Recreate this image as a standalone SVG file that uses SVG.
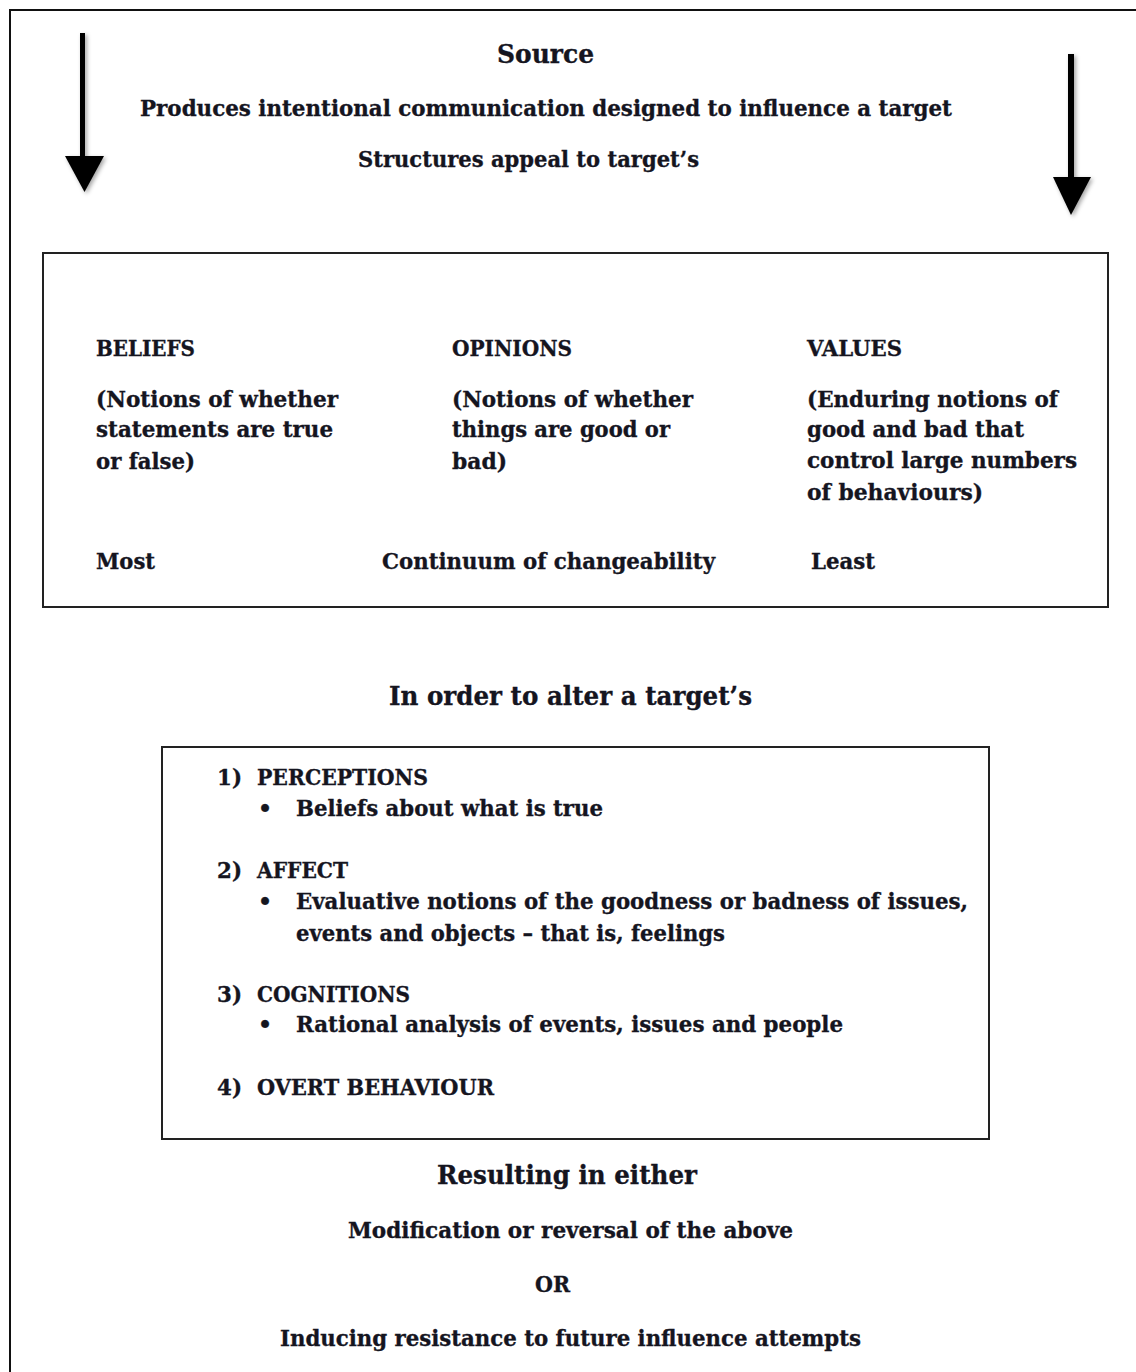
<svg xmlns="http://www.w3.org/2000/svg" width="1136" height="1372" viewBox="0 0 1136 1372">
<defs>
<style>
text{font-family:"DejaVu Serif","Liberation Serif",serif;font-weight:bold;fill:#15151f;stroke:#15151f;stroke-width:0.35;font-size:22px}
.t{font-size:26px}
.box{fill:none;stroke:#222;stroke-width:2}
.arr{fill:#000}
</style>
<filter id="sh" x="-50%" y="-20%" width="200%" height="140%"><feDropShadow dx="2" dy="2" stdDeviation="2" flood-color="#000" flood-opacity="0.35"/></filter>
</defs>
<rect width="1136" height="1372" fill="#fff"/>
<path d="M10,1372 V10 H1136" fill="none" stroke="#111" stroke-width="2"/>
<g id="connectors">
<g filter="url(#sh)" class="arr">
<rect x="80" y="33" width="5" height="125"/>
<polygon points="65,156 104,156 84.5,192"/>
</g>
<g filter="url(#sh)" class="arr">
<rect x="1068" y="54" width="6" height="125"/>
<polygon points="1053,177 1091,177 1071,215"/>
</g>
</g>
<g id="source">
<text class="t" x="497" y="63" textLength="97" lengthAdjust="spacingAndGlyphs">Source</text>
<text x="140" y="116" textLength="812" lengthAdjust="spacingAndGlyphs">Produces intentional communication designed to influence a target</text>
<text x="358" y="167" textLength="341" lengthAdjust="spacingAndGlyphs">Structures appeal to target’s</text>
</g>
<g id="continuum">
<rect class="box" x="43" y="253" width="1065" height="354"/>
<text x="96" y="356" textLength="99" lengthAdjust="spacingAndGlyphs">BELIEFS</text>
<text x="96" y="407" textLength="242" lengthAdjust="spacingAndGlyphs">(Notions of whether</text>
<text x="96" y="437" textLength="237" lengthAdjust="spacingAndGlyphs">statements are true</text>
<text x="96" y="469" textLength="99" lengthAdjust="spacingAndGlyphs">or false)</text>
<text x="452" y="356" textLength="120" lengthAdjust="spacingAndGlyphs">OPINIONS</text>
<text x="452" y="407" textLength="241" lengthAdjust="spacingAndGlyphs">(Notions of whether</text>
<text x="452" y="437" textLength="218" lengthAdjust="spacingAndGlyphs">things are good or</text>
<text x="452" y="469" textLength="55" lengthAdjust="spacingAndGlyphs">bad)</text>
<text x="807" y="356" textLength="95" lengthAdjust="spacingAndGlyphs">VALUES</text>
<text x="807" y="407" textLength="251" lengthAdjust="spacingAndGlyphs">(Enduring notions of</text>
<text x="807" y="437" textLength="217" lengthAdjust="spacingAndGlyphs">good and bad that</text>
<text x="807" y="468" textLength="270" lengthAdjust="spacingAndGlyphs">control large numbers</text>
<text x="807" y="500" textLength="176" lengthAdjust="spacingAndGlyphs">of behaviours)</text>
<text x="96" y="569" textLength="59" lengthAdjust="spacingAndGlyphs">Most</text>
<text x="382" y="569" textLength="333" lengthAdjust="spacingAndGlyphs">Continuum of changeability</text>
<text x="811" y="569" textLength="64" lengthAdjust="spacingAndGlyphs">Least</text>
</g>
<g id="alter">
<text class="t" x="389" y="705" textLength="363" lengthAdjust="spacingAndGlyphs">In order to alter a target’s</text>
</g>
<g id="list">
<rect class="box" x="162" y="747" width="827" height="392"/>
<text x="217" y="785" textLength="25" lengthAdjust="spacingAndGlyphs">1)</text>
<text x="257" y="785" textLength="171" lengthAdjust="spacingAndGlyphs">PERCEPTIONS</text>
<text x="258" y="816">•</text>
<text x="296" y="816" textLength="307" lengthAdjust="spacingAndGlyphs">Beliefs about what is true</text>
<text x="217" y="878" textLength="25" lengthAdjust="spacingAndGlyphs">2)</text>
<text x="257" y="878" textLength="91" lengthAdjust="spacingAndGlyphs">AFFECT</text>
<text x="258" y="909">•</text>
<text x="296" y="909" textLength="672" lengthAdjust="spacingAndGlyphs">Evaluative notions of the goodness or badness of issues,</text>
<text x="296" y="941" textLength="429" lengthAdjust="spacingAndGlyphs">events and objects – that is, feelings</text>
<text x="217" y="1002" textLength="25" lengthAdjust="spacingAndGlyphs">3)</text>
<text x="257" y="1002" textLength="153" lengthAdjust="spacingAndGlyphs">COGNITIONS</text>
<text x="258" y="1032">•</text>
<text x="296" y="1032" textLength="547" lengthAdjust="spacingAndGlyphs">Rational analysis of events, issues and people</text>
<text x="217" y="1095" textLength="25" lengthAdjust="spacingAndGlyphs">4)</text>
<text x="257" y="1095" textLength="237" lengthAdjust="spacingAndGlyphs">OVERT BEHAVIOUR</text>
</g>
<g id="result">
<text class="t" x="437" y="1184" textLength="260" lengthAdjust="spacingAndGlyphs">Resulting in either</text>
<text x="348" y="1238" textLength="445" lengthAdjust="spacingAndGlyphs">Modification or reversal of the above</text>
<text x="535" y="1292" textLength="35" lengthAdjust="spacingAndGlyphs">OR</text>
<text x="280" y="1346" textLength="581" lengthAdjust="spacingAndGlyphs">Inducing resistance to future influence attempts</text>
</g>
</svg>
